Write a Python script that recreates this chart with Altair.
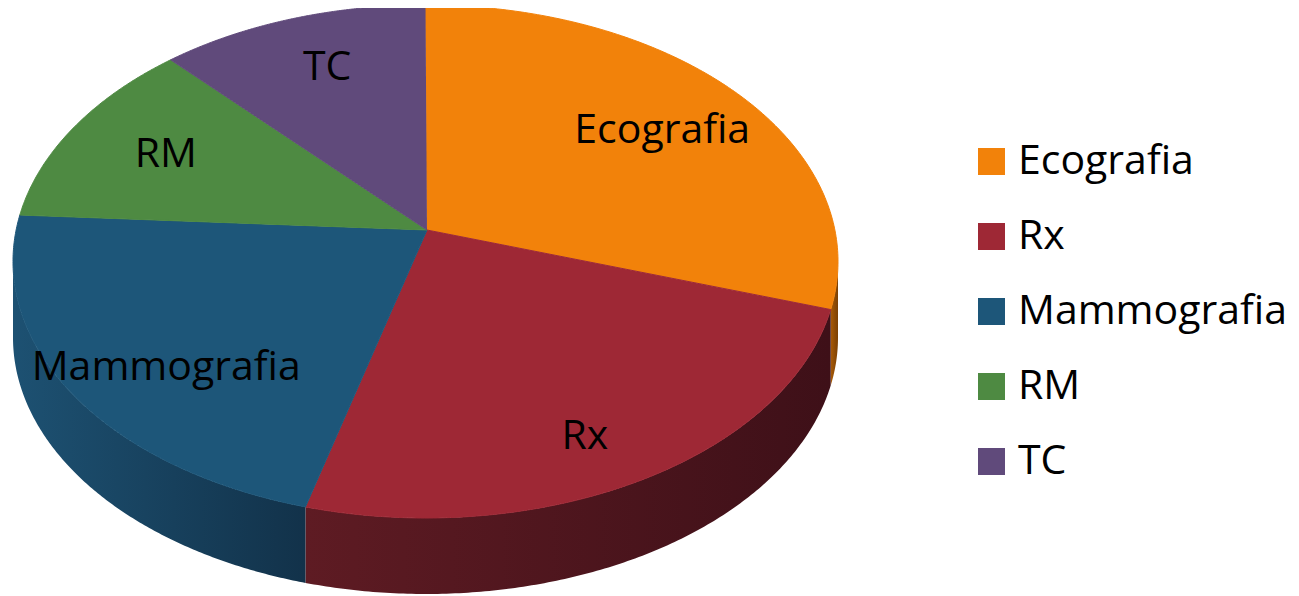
import altair as alt
import pandas as pd

# ---- data ----
categories = ["Ecografia", "Rx", "Mammografia", "RM", "TC"]
values = [28, 26.7, 23.2, 11.5, 10.6]
top_colors = ["#F2820A", "#9E2835", "#1D5679", "#4E8A42", "#604A7B"]
wall_left = ["#A85A07", "#5E1B23", "#1D5172", "#33592B", "#3F3052"]
wall_right = ["#7A4004", "#3E1018", "#12324A", "#2A4A23", "#33283F"]

# ---- geometry of the tilted pie (pixels of the page) ----
W, H = 1283, 588
OX, OY = 8, 8
CX, CY, RX, RY = 425.5, 261.5, 412.5, 256.5
AX, AY = 427, 230
DEPTH = 76
N = 160

df = pd.DataFrame({"cat": categories, "value": values, "idx": list(range(len(categories)))})

xs = alt.Scale(domain=[OX, OX + W], nice=False, zero=False)
ys = alt.Scale(domain=[OY, OY + H], nice=False, zero=False, reverse=True)
color_scale = alt.Scale(domain=categories, range=top_colors)

base = (
    alt.Chart(df)
    .transform_joinaggregate(total="sum(value)")
    .transform_window(cum="sum(value)", sort=[alt.SortField("idx")], frame=[None, 0])
    .transform_calculate(
        a1="(datum.cum - datum.value) / datum.total * 2 * PI",
        a2="datum.cum / datum.total * 2 * PI",
    )
)

# side walls (visible front half)
walls = []
for c, cl, cr in zip(categories, wall_left, wall_right):
    w = (
        base.transform_filter(f"datum.cat == '{c}'")
        .transform_calculate(w1="max(datum.a1, PI / 2)", w2="min(datum.a2, 3 * PI / 2)")
        .transform_filter("datum.w2 > datum.w1")
        .transform_calculate(pts=f"sequence(0, {2 * N + 2})")
        .transform_flatten(["pts"], as_=["i"])
        .transform_calculate(
            j=f"datum.i <= {N} ? datum.i : {2 * N + 1} - datum.i",
        )
        .transform_calculate(
            t=f"datum.w1 + (datum.w2 - datum.w1) * datum.j / {N}",
        )
        .transform_calculate(
            px=f"{CX} + {RX} * sin(datum.t)",
            py=f"{CY} - {RY} * cos(datum.t) + (datum.i > {N} ? {DEPTH} : 0)",
        )
        .mark_line(
            filled=True,
            fill=alt.Gradient(
                gradient="linear",
                stops=[alt.GradientStop(color=cl, offset=0), alt.GradientStop(color=cr, offset=1)],
                x1=0, x2=1, y1=0, y2=0,
            ),
            strokeWidth=0,
        )
        .encode(
            x=alt.X("px:Q", scale=xs, axis=None),
            y=alt.Y("py:Q", scale=ys, axis=None),
            order="i:Q",
        )
    )
    walls.append(w)

# top face
top = (
    base.transform_calculate(pts=f"sequence(0, {N + 2})")
    .transform_flatten(["pts"], as_=["i"])
    .transform_calculate(t=f"datum.a1 + (datum.a2 - datum.a1) * (datum.i - 1) / {N}")
    .transform_calculate(
        px=f"datum.i == 0 ? {AX} : {CX} + {RX} * sin(datum.t)",
        py=f"datum.i == 0 ? {AY} : {CY} - {RY} * cos(datum.t)",
    )
    .mark_line(filled=True, strokeWidth=1, opacity=1)
    .encode(
        x=alt.X("px:Q", scale=xs, axis=None),
        y=alt.Y("py:Q", scale=ys, axis=None),
        order="i:Q",
        color=alt.Color(
            "cat:N",
            scale=color_scale,
            sort=categories,
            legend=alt.Legend(
                title=None,
                orient="none",
                legendX=963,
                legendY=133,
                symbolType="square",
                symbolSize=729,
                symbolStrokeWidth=0,
                symbolOpacity=1,
                labelFont="Open Sans",
                labelFontSize=41,
                labelColor="black",
                labelOffset=6,
                rowPadding=33,
                labelLimit=400,
            ),
        ),
        stroke=alt.Stroke("cat:N", scale=color_scale, sort=categories, legend=None),
    )
)

labels = (
    base.transform_calculate(m="(datum.a1 + datum.a2) / 2")
    .transform_calculate(
        lx=f"{AX} + 0.74 * {RX} * sin(datum.m)",
        ly=f"{CY} - 0.8 * {RY} * cos(datum.m)",
    )
    .mark_text(font="Open Sans", fontSize=41, color="black", align="center", baseline="middle")
    .encode(
        x=alt.X("lx:Q", scale=xs, axis=None),
        y=alt.Y("ly:Q", scale=ys, axis=None),
        text="cat:N",
    )
)

chart = (
    alt.layer(*walls, top, labels)
    .properties(width=W, height=H, padding=0, autosize=alt.AutoSizeParams(type="none"))
    .configure_view(stroke=None)
)

chart.save("out.html", embed_options={"renderer": "svg", "actions": False})
